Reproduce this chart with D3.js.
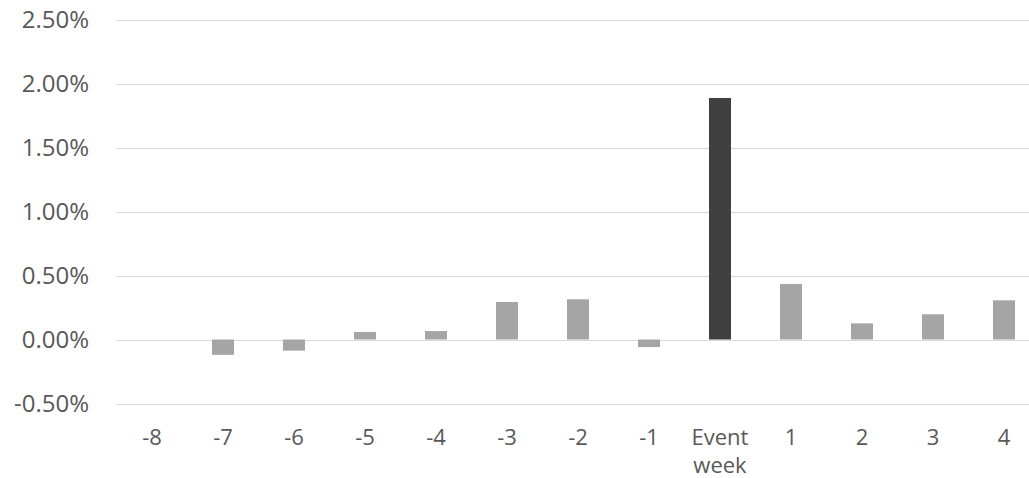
<!DOCTYPE html>
<html>
<head>
<meta charset="utf-8">
<script src="https://cdn.jsdelivr.net/npm/d3@7"></script>
<style>
  body { margin: 0; background: #fff; }
  svg { display: block; font-family: "Open Sans", sans-serif; }
</style>
</head>
<body>
<div id="chart"></div>
<script>
const weeks = ["-8", "-7", "-6", "-5", "-4", "-3", "-2", "-1", "Event week", "1", "2", "3", "4"];
const returns = [0, -0.0012, -0.00087, 0.00059, 0.00066, 0.00293, 0.00314, -0.00059, 0.01887, 0.00434, 0.00126, 0.00197, 0.00306];
const yTicks = [-0.005, 0, 0.005, 0.01, 0.015, 0.02, 0.025];

const width = 1029, height = 478;

const x = d3.scaleBand(weeks, [116.5, 1039.5]).paddingInner(0.69).paddingOuter(0.345);
const y = d3.scaleLinear([-0.005, 0.025], [403.5, 19.5]);
const pct = d => d3.format(".2%")(d).replace("\u2212", "-");

const svg = d3.select("#chart")
  .append("svg")
  .attr("width", width)
  .attr("height", height);

// gridlines
svg.append("g")
  .selectAll("line")
  .data(yTicks)
  .join("line")
  .attr("x1", 116.5)
  .attr("x2", width)
  .attr("y1", d => Math.round(y(d)) + 0.5)
  .attr("y2", d => Math.round(y(d)) + 0.5)
  .attr("stroke", "#d9d9d9")
  .attr("stroke-width", 1);

// y labels
svg.append("g")
  .selectAll("text")
  .data(yTicks)
  .join("text")
  .attr("x", 89)
  .attr("y", d => y(d))
  .attr("dy", "0.35em")
  .attr("text-anchor", "end")
  .attr("fill", "#595959")
  .attr("font-size", 24)
  .text(pct);

// bars
svg.append("g")
  .selectAll("rect")
  .data(weeks)
  .join("rect")
  .attr("x", d => x(d))
  .attr("width", x.bandwidth())
  .attr("y", (d, i) => y(Math.max(0, returns[i])))
  .attr("height", (d, i) => Math.abs(y(returns[i]) - y(0)))
  .attr("fill", d => d === "Event week" ? "#404040" : "#a5a5a5");

// x labels
svg.append("g")
  .selectAll("text")
  .data(weeks)
  .join("text")
  .attr("text-anchor", "middle")
  .attr("fill", "#595959")
  .attr("font-size", 22)
  .attr("transform", d => `translate(${x(d) + x.bandwidth() / 2},437)`)
  .each(function(d) {
    const parts = d.split(" ");
    d3.select(this).selectAll("tspan")
      .data(parts)
      .join("tspan")
      .attr("x", 0)
      .attr("y", (p, j) => j * 28)
      .attr("dy", "0.35em")
      .text(p => p);
  });
</script>
</body>
</html>
